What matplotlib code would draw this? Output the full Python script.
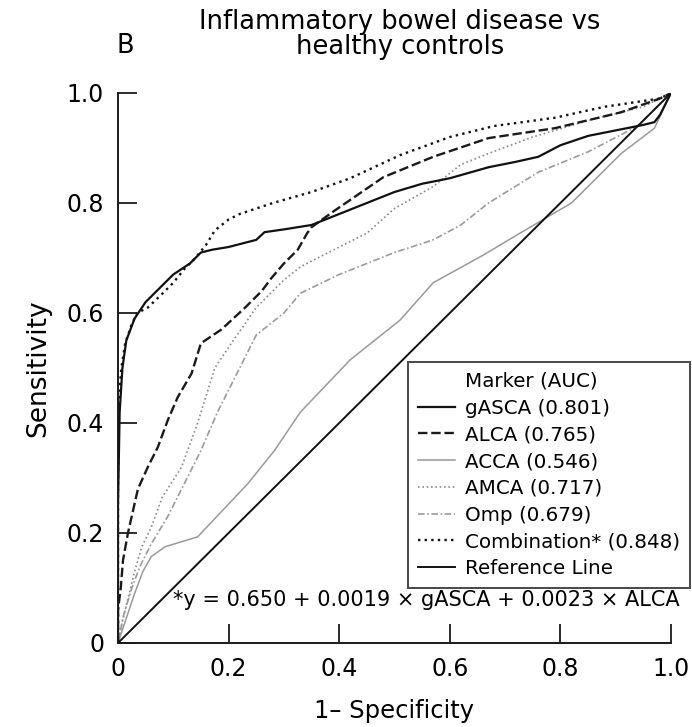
import matplotlib
matplotlib.use("Agg")
import matplotlib.pyplot as plt
from matplotlib.lines import Line2D

plt.rcParams['font.family'] = ['DejaVu Sans']

# ROC curves, (1 - specificity, sensitivity)
gasca_fpr = [0, 0, 0.003, 0.008, 0.015, 0.03, 0.05, 0.08, 0.1, 0.13, 0.15, 0.17, 0.2, 0.25, 0.265, 0.3,
             0.35, 0.4, 0.45, 0.5, 0.55, 0.6, 0.67, 0.72, 0.76, 0.8, 0.85, 0.9, 0.95, 0.97, 0.98, 1.0]
gasca_tpr = [0, 0.25, 0.42, 0.5, 0.55, 0.59, 0.62, 0.65, 0.67, 0.69, 0.71, 0.715, 0.72, 0.733, 0.747, 0.752,
             0.76, 0.78, 0.80, 0.82, 0.835, 0.845, 0.865, 0.875, 0.884, 0.905, 0.922, 0.932, 0.942, 0.947, 0.96, 1.0]

alca_fpr = [0, 0, 0.005, 0.009, 0.018, 0.036, 0.054, 0.072, 0.09, 0.108, 0.133, 0.15, 0.187, 0.23, 0.26,
            0.277, 0.3, 0.325, 0.342, 0.35, 0.39, 0.48, 0.57, 0.67, 0.79, 0.91, 0.98, 1.0]
alca_tpr = [0, 0.06, 0.1, 0.15, 0.2, 0.28, 0.32, 0.356, 0.405, 0.447, 0.49, 0.545, 0.57, 0.61, 0.64,
            0.663, 0.69, 0.715, 0.745, 0.756, 0.785, 0.847, 0.884, 0.918, 0.936, 0.965, 0.99, 1.0]

acca_fpr = [0, 0.01, 0.02, 0.03, 0.045, 0.06, 0.085, 0.144, 0.19, 0.235, 0.283, 0.33, 0.42, 0.51, 0.57,
            0.66, 0.73, 0.82, 0.91, 0.97, 1.0]
acca_tpr = [0, 0.03, 0.06, 0.09, 0.13, 0.157, 0.175, 0.193, 0.242, 0.29, 0.35, 0.42, 0.515, 0.587, 0.655,
            0.705, 0.747, 0.80, 0.89, 0.936, 1.0]

amca_fpr = [0, 0.008, 0.018, 0.03, 0.043, 0.06, 0.08, 0.115, 0.144, 0.175, 0.205, 0.25, 0.3, 0.33, 0.4,
            0.45, 0.5, 0.57, 0.62, 0.67, 0.75, 0.85, 0.95, 1.0]
amca_tpr = [0, 0.04, 0.08, 0.13, 0.175, 0.21, 0.265, 0.32, 0.40, 0.50, 0.545, 0.61, 0.66, 0.684, 0.72,
            0.745, 0.79, 0.83, 0.87, 0.89, 0.92, 0.95, 0.975, 1.0]

omp_fpr = [0, 0.01, 0.025, 0.04, 0.06, 0.09, 0.12, 0.15, 0.18, 0.2, 0.23, 0.25, 0.3, 0.33, 0.4, 0.45,
           0.5, 0.57, 0.62, 0.67, 0.76, 0.85, 0.94, 1.0]
omp_tpr = [0, 0.05, 0.1, 0.14, 0.18, 0.23, 0.29, 0.35, 0.42, 0.46, 0.52, 0.56, 0.60, 0.636, 0.67, 0.69,
           0.71, 0.733, 0.76, 0.80, 0.856, 0.893, 0.94, 1.0]

comb_fpr = [0, 0, 0.002, 0.006, 0.013, 0.025, 0.035, 0.054, 0.08, 0.1, 0.12, 0.14, 0.16, 0.175, 0.2,
            0.22, 0.28, 0.35, 0.42, 0.51, 0.6, 0.68, 0.79, 0.88, 0.98, 1.0]
comb_tpr = [0, 0.3, 0.45, 0.5, 0.545, 0.58, 0.6, 0.61, 0.635, 0.655, 0.68, 0.70, 0.725, 0.75, 0.77,
            0.78, 0.80, 0.82, 0.845, 0.887, 0.92, 0.94, 0.955, 0.975, 0.99, 1.0]

labels = ['gASCA (0.801)', 'ALCA (0.765)', 'ACCA (0.546)', 'AMCA (0.717)', 'Omp (0.679)',
          'Combination* (0.848)', 'Reference Line']
ticks = [0, 0.2, 0.4, 0.6, 0.8, 1.0]
tick_labels = ['0', '0.2', '0.4', '0.6', '0.8', '1.0']

fig = plt.figure(figsize=(6.92, 7.27), dpi=100)
ax = fig.add_axes([118 / 692, 1 - 643 / 727, 553 / 692, 550 / 727])

ax.plot(acca_fpr, acca_tpr, color='#9a9a9a', lw=1.1, label=labels[2])
ax.plot(amca_fpr, amca_tpr, color='#8a8a8a', lw=1.2, ls=(0, (1, 1.6)), label=labels[3])
ax.plot(omp_fpr, omp_tpr, color='#9a9a9a', lw=1.2, ls=(0, (4, 1.5, 1, 1.5)), label=labels[4])
ax.plot(alca_fpr, alca_tpr, color='#1a1a1a', lw=1.7, ls=(0, (4, 1.6)), label=labels[1])
ax.plot(gasca_fpr, gasca_tpr, color='#111111', lw=1.6, label=labels[0])
ax.plot(comb_fpr, comb_tpr, color='#111111', lw=1.7, ls=(0, (1, 1.8)), label=labels[5])
ax.plot([0, 1], [0, 1], color='#111111', lw=1.4, label=labels[6])

ax.set_xlim(0, 1)
ax.set_ylim(0, 1)
ax.spines['top'].set_visible(False)
ax.spines['right'].set_visible(False)
for s in ('left', 'bottom'):
    ax.spines[s].set_linewidth(1.4)
    ax.spines[s].set_color('#1a1a1a')
ax.set_xticks(ticks)
ax.set_xticklabels(tick_labels)
ax.set_yticks(ticks)
ax.set_yticklabels(tick_labels)
ax.tick_params(direction='in', length=14, width=1.3, color='#1a1a1a', labelsize=17, pad=10)

ax.set_xlabel('1\u2013 Specificity', fontsize=17.5, labelpad=13)
ax.set_ylabel('Sensitivity', fontsize=19, labelpad=11)

fig.text(400 / 692, 1 - 22 / 727, 'Inflammatory bowel disease vs', fontsize=18.5, ha='center', va='center')
fig.text(400 / 692, 1 - 47 / 727, 'healthy controls', fontsize=18.5, ha='center', va='center')
fig.text(125 / 692, 1 - 46 / 727, 'B', fontsize=18.5, ha='center', va='center')

ax.text(1.016, 0.078, '*y = 0.650 + 0.0019 \u00d7 gASCA + 0.0023 \u00d7 ALCA',
        transform=ax.transAxes, fontsize=15, ha='right', va='center')

# legend: first row is the header, drawn with an empty handle
handles, labs = ax.get_legend_handles_labels()
order = [labels.index(l) for l in labs]
pairs = sorted(zip(order, handles, labs))
handles = [Line2D([], [], lw=0)] + [p[1] for p in pairs]
labs = ['Marker (AUC)'] + [p[2] for p in pairs]
leg = fig.legend(handles, labs, loc='upper left', bbox_to_anchor=(408 / 692, 1 - 362 / 727),
                 frameon=True, fancybox=False, edgecolor='#1a1a1a', fontsize=14.3,
                 handlelength=1.85, handletextpad=0.5, labelspacing=0.39, borderpad=0.5,
                 borderaxespad=0)
leg.get_frame().set_linewidth(1.4)

fig.savefig('out.png', dpi=100)
